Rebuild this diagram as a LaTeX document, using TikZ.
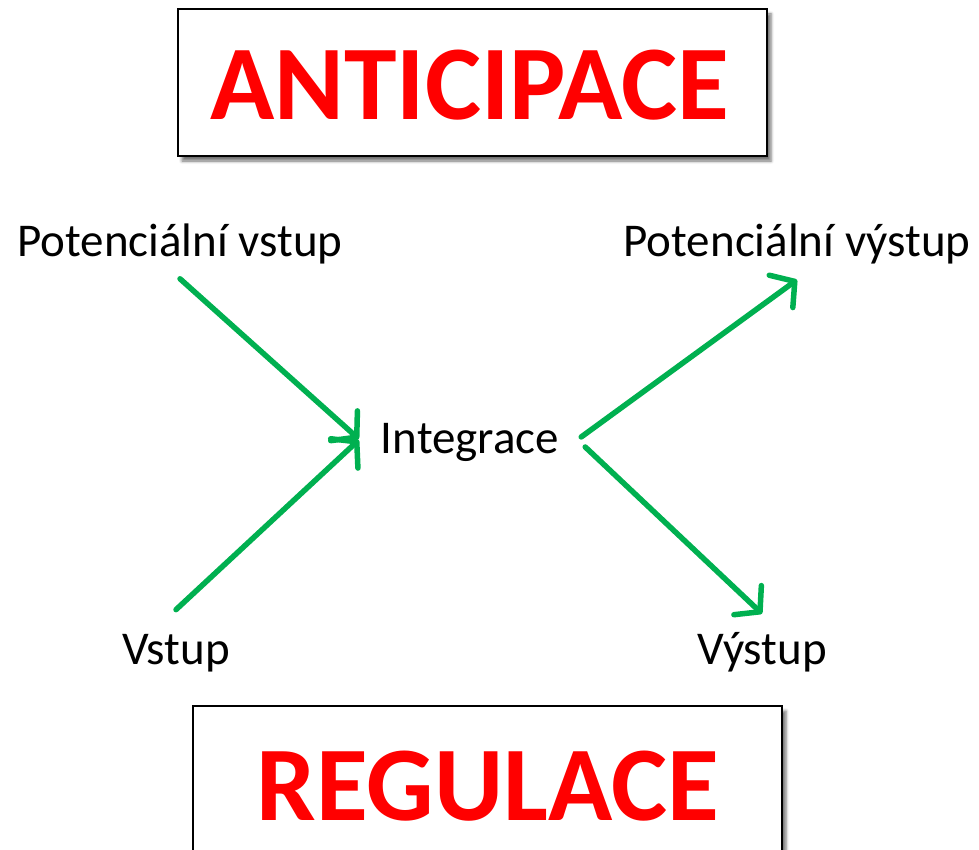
\documentclass[tikz,border=0pt]{standalone}
\usepackage{fontspec}
\setmainfont{Carlito}
\usetikzlibrary{arrows.meta,shadows.blur}

\definecolor{sipka}{HTML}{00B050}
\tikzset{
  frame/.style={draw=black, line width=2pt, fill=white, minimum width=589pt,
    blur shadow={shadow xshift=4pt, shadow yshift=-5pt, shadow blur radius=3pt, shadow opacity=55}},
  title/.style={anchor=base, text=red, font=\fontsize{106}{110}\selectfont\bfseries, inner sep=0pt},
  lbl/.style={anchor=base, font=\fontsize{47}{52}\selectfont, inner xsep=0pt},
  arr/.style={draw=sipka, line width=5.5pt, line cap=round,
    -{Straight Barb[length=17pt, width=40pt, round]}}
}

\begin{document}
\begin{tikzpicture}[x=1pt, y=-1pt]
        \useasboundingbox (0,0) rectangle (979,850);
        \node[frame, minimum height=147pt] (antbox) at (472.5,82.5) {}; % ramecek nahore
        \node[title] (ant) at (470,120) {ANTICIPACE};
        \node[frame, minimum height=160pt] (regbox) at (487.5,786) {}; % ramecek dole
        \node[title] (reg) at (488,820) {REGULACE};
        \node[lbl, inner ysep=14pt] (pv) at (180,257) {Potenciální vstup};
        \node[lbl, inner ysep=15pt] (pvy) at (797,257) {Potenciální výstup};
        \node[lbl, inner xsep=22pt] (int) at (470,453) {Integrace};
        \node[lbl, inner ysep=24pt] (vs) at (176,664) {Vstup};
        \node[lbl, inner ysep=18pt] (vys) at (762,664) {Výstup};
        \draw[arr] (pv.south) -- ([yshift=3pt]int.west); % vstupy do integrace
        \draw[arr] (vs.north) -- ([yshift=2pt]int.west);
        \draw[arr] ([yshift=5pt]int.east) -- (pvy.south); % vystupy
        \draw[arr] ([shift={(4pt,-5pt)}]int.east) -- (vys.north);
\end{tikzpicture}
\end{document}
